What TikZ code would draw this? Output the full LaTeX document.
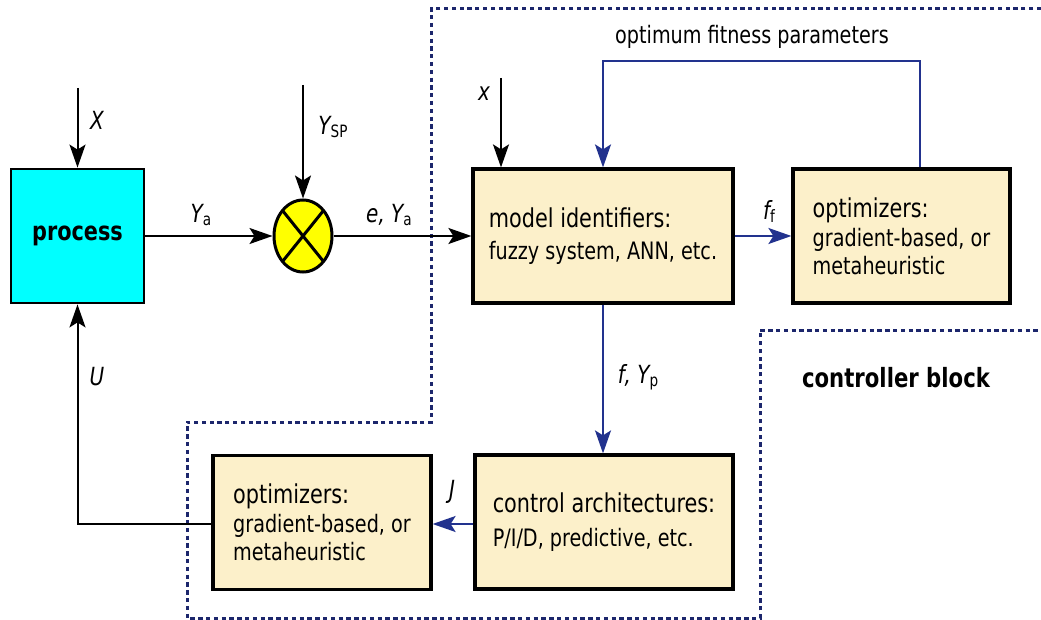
\documentclass[tikz,border=0pt]{standalone}
\usepackage{fontspec}
\setmainfont{DejaVu Sans}[FakeStretch=0.8]
\usetikzlibrary{arrows.meta,shapes.geometric}
\definecolor{cream}{RGB}{252,240,202}
\definecolor{sigblue}{RGB}{34,50,142}
\definecolor{framecol}{RGB}{28,38,108}
\definecolor{proccyan}{RGB}{0,255,255}
\definecolor{sumyellow}{RGB}{255,255,0}
\newcommand{\boxtitle}{\fontsize{26}{31}\selectfont}
\newcommand{\boxbody}{\fontsize{24}{29}\selectfont}
\newcommand{\sigsub}[1]{\raisebox{-3pt}{\fontsize{17}{17}\selectfont\upshape #1}}
\begin{document}
\begin{tikzpicture}[x=1pt,y=-1pt,
  block/.style={draw=black,line width=3.2pt,fill=cream,minimum height=134pt,
    inner sep=0pt,align=left,font=\boxbody},
  procbox/.style={draw=black,line width=2.8pt,fill=proccyan,minimum width=133pt,
    minimum height=134pt,inner sep=0pt,font=\fontsize{26}{26}\selectfont\bfseries},
  sumnode/.style={ellipse,draw=black,line width=3pt,fill=sumyellow,
    minimum width=58pt,minimum height=72pt,inner sep=0pt},
  sig/.style={inner sep=0pt,font=\fontsize{25}{25}\selectfont\itshape},
  plain/.style={inner sep=0pt,font=\boxbody},
  tip/.style={-{Stealth[length=23pt,width=16pt,inset=5pt]}},
  blackline/.style={draw=black,line width=2pt},
  blueline/.style={draw=sigblue,line width=1.9pt},
  frameline/.style={draw=framecol,line width=3pt,dash pattern=on 4.3pt off 3.5pt}]
\useasboundingbox (0,0) rectangle (1041,620);

% controller block boundary
\draw[frameline] (1041,9) -- (431,9) -- (431,422) -- (187,422) -- (187,618)
  -- (760,618) -- (760,330) -- (1041,330);

% blocks
\node[procbox] (process) at (77.5,236) {process};
\node[sumnode] (sum) at (303,236) {};
\draw[line width=3pt] (sum.center) ++(-20.5,-25.5) -- ++(41,51);
\draw[line width=3pt] (sum.center) ++(20.5,-25.5) -- ++(-41,51);
\node[block,minimum width=260pt] (model) at (603,236)
  {{\boxtitle model identifiers:}\\[3pt]fuzzy system, ANN, etc.};
\node[block,minimum width=217pt] (opt1) at (901.5,236)
  {{\boxtitle optimizers:}\\[0pt]gradient-based, or\\[-1pt]metaheuristic};
\node[block,minimum width=258pt] (ctrl) at (604,522)
  {{\boxtitle control architectures:}\\[5pt]P/I/D, predictive, etc.};
\node[block,minimum width=218pt] (opt2) at (322,522.5)
  {{\boxtitle optimizers:}\\[0pt]gradient-based, or\\[-1pt]metaheuristic};

% free ends of the input signals and bends
\coordinate (Xin) at (77.5,88);
\coordinate (SPin) at (303,85);
\coordinate (xin) at (501,78);
\coordinate (fbR) at (920,61);
\coordinate (fbL) at (603,61);
\coordinate (ubend) at (77.5,524);

% black signal paths
\draw[blackline,tip] (Xin) -- (process.north);
\draw[blackline,tip] (SPin) -- (sum.north);
\draw[blackline,tip] (process.east) -- (sum.west);
\draw[blackline,tip] (sum.east) -- (model.west);
\draw[blackline,tip] (xin) -- (xin |- model.north);
\draw[blackline,tip] (opt2.west |- ubend) -- (ubend) -- (process.south);

% blue signal paths inside the controller
\draw[blueline,tip] (fbR |- opt1.north) -- (fbR) -- (fbL) -- (fbL |- model.north);
\draw[blueline,tip] (model.east) -- (opt1.west);
\draw[blueline,tip] (model.south) -- (model.south |- ctrl.north);
\draw[blueline,tip] (ctrl.west |- ubend) -- (opt2.east |- ubend);

% signal labels
\node[sig] (lX) at (97,120) {X};
\node[sig] (lYsp) at (333,127) {Y\sigsub{SP}};
\node[sig] (lYa) at (201,215) {Y\sigsub{a}};
\node[sig] (leYa) at (389,215) {e, Y\sigsub{a}};
\node[sig] (lx) at (484,94) {x};
\node[sig] (lff) at (769,212) {f\sigsub{f}};
\node[sig] (lfYp) at (638,377) {f, Y\sigsub{p}};
\node[sig] (lJ) at (452,492) {J};
\node[sig] (lU) at (97,377) {U};
\node[plain] (lopt) at (752,37) {optimum fitness parameters};
\node[inner sep=0pt,font=\fontsize{26.5}{26.5}\selectfont\bfseries] (lctrl) at (896,378) {controller block};
\end{tikzpicture}
\end{document}
